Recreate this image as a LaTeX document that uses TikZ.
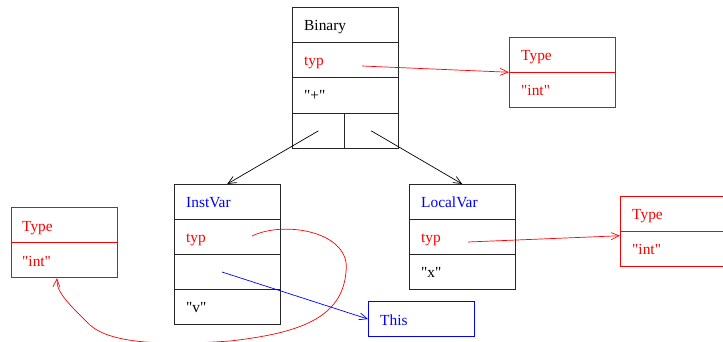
\documentclass[tikz,border=0pt]{standalone}
\usepackage{fontspec}
\setmainfont{Liberation Serif}[Ligatures=TeXOff]
\usetikzlibrary{arrows.meta,calc}
\definecolor{xred}{RGB}{255,0,0}
\definecolor{xblue}{RGB}{0,0,255}
\begin{document}
\begin{tikzpicture}[x=1pt,y=-1pt,
  cell/.style={draw=#1,line width=0.9pt,rectangle,anchor=north west,inner sep=0pt,minimum width=105.5pt,minimum height=35.25pt},
  cell/.default=black!85,
  half/.style={draw=black!85,line width=0.9pt,rectangle,anchor=north west,inner sep=0pt,minimum width=52pt,minimum height=35.25pt},
  txt/.style={anchor=base west,inner sep=0pt,font=\fontsize{15.4}{18}\selectfont,text=#1},
  txt/.default=black,
  conn/.style={line width=0.7pt,-{Straight Barb[length=8pt,width=7pt]}}
]
\useasboundingbox (0,0) rectangle (723,342);
% Binary
\node[cell] (bin1) at (292,7) {};
\node[cell] (bin2) at (292,42.25) {};
\node[cell] (bin3) at (292,77.5) {};
\node[half] (bin4a) at (292,112.75) {};
\node[half,minimum width=53.5pt] (bin4b) at (344,112.75) {};
\node[txt] at ($(bin1.north west)+(12,23.5)$) {Binary};
\node[txt=xred] at ($(bin2.north west)+(12,23.5)$) {typ};
\node[txt] at ($(bin3.north west)+(12,23.5)$) {"+"};
% Type (top right)
\node[cell=xred] (tA1) at (509,37) {};
\node[cell=xred] (tA2) at (509,72.25) {};
\node[txt=xred] at ($(tA1.north west)+(12,23.5)$) {Type};
\node[txt=xred] at ($(tA2.north west)+(12,23.5)$) {"int"};
% InstVar
\node[cell] (iv1) at (174,184) {};
\node[cell] (iv2) at (174,219) {};
\node[cell] (iv3) at (174,254) {};
\node[cell] (iv4) at (174,289) {};
\node[txt=xblue] at ($(iv1.north west)+(12,23.5)$) {InstVar};
\node[txt=xred] at ($(iv2.north west)+(12,23.5)$) {typ};
\node[txt] at ($(iv4.north west)+(12,23.5)$) {"v"};
% LocalVar
\node[cell] (lv1) at (409,184) {};
\node[cell] (lv2) at (409,219) {};
\node[cell] (lv3) at (409,254) {};
\node[txt=xblue] at ($(lv1.north west)+(12,23.5)$) {LocalVar};
\node[txt=xred] at ($(lv2.north west)+(12,23.5)$) {typ};
\node[txt] at ($(lv3.north west)+(12,23.5)$) {"x"};
% Type (left)
\node[cell=xred] (tB1) at (11,207) {};
\node[cell=xred] (tB2) at (11,242) {};
\node[txt=xred] at ($(tB1.north west)+(11,24)$) {Type};
\node[txt=xred] at ($(tB2.north west)+(11,24)$) {"int"};
% Type (right)
\node[cell=xred] (tC1) at (620,195.5) {};
\node[cell=xred] (tC2) at (620,230.75) {};
\node[txt=xred] at ($(tC1.north west)+(12,23.5)$) {Type};
\node[txt=xred] at ($(tC2.north west)+(12,23.5)$) {"int"};
% This
\node[cell=xblue] (this) at (368,301) {};
\node[txt=xblue] at ($(this.north west)+(12,24)$) {This};
% free ends
\coordinate (binTyp) at (362,66);
\coordinate (lvTyp) at (468,242);
\coordinate (ivTyp) at (252,236);
\coordinate (ivRef) at (222,272);
% connectors
\draw[conn,black] (bin4a.center) -- (iv1.north);
\draw[conn,black] (bin4b.center) -- (lv1.north);
\draw[conn,xred] (binTyp) -- (tA2.north west);
\draw[conn,xred] (lvTyp) -- ($(tC2.north west)+(0,5)$);
\draw[conn,xblue] (ivRef) -- (this.west);
\draw[conn,xred] (ivTyp) .. controls (285,220) and (352,232) .. (346,272)
  .. controls (342,318) and (300,333) .. (230,341)
  .. controls (160,346) and (110,343) .. (90,325)
  .. controls (72,307) and (56,293) .. ($(tB2.south west)+(46,0)$);
\end{tikzpicture}
\end{document}
